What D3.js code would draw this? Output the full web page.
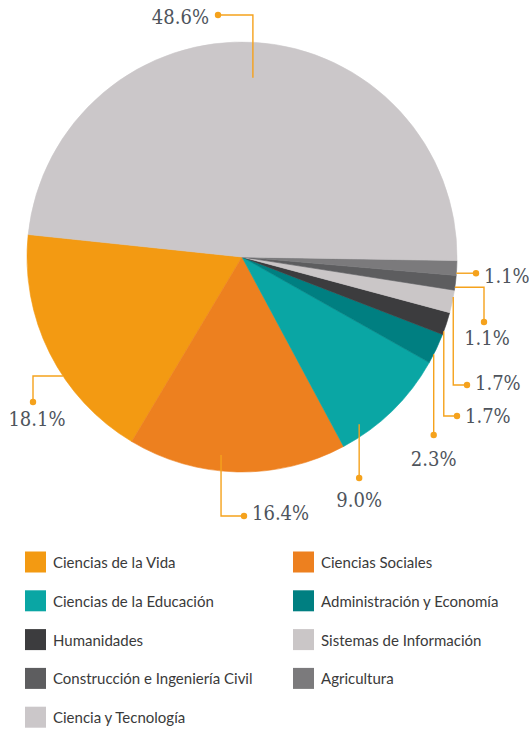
<!DOCTYPE html>
<html>
<head>
<meta charset="utf-8">
<script src="https://cdn.jsdelivr.net/npm/d3@7"></script>
<style>
  html, body { margin: 0; padding: 0; background: #ffffff; }
  svg { display: block; }
</style>
</head>
<body>
<svg id="chart" width="529" height="729"></svg>
<script>
// Areas of knowledge and their share of the total (percent)
const categories = [
  "Ciencias de la Vida",
  "Ciencias Sociales",
  "Ciencias de la Educación",
  "Administración y Economía",
  "Humanidades",
  "Sistemas de Información",
  "Construcción e Ingeniería Civil",
  "Agricultura",
  "Ciencia y Tecnología"
];
const shares = [18.1, 16.4, 9.0, 2.3, 1.7, 1.7, 1.1, 1.1, 48.6];
const shareLabels = ["18.1%", "16.4%", "9.0%", "2.3%", "1.7%", "1.7%", "1.1%", "1.1%", "48.6%"];
const colors = [
  "#f39a12", "#ed801f", "#0aa6a4", "#007f81", "#3c3c3e",
  "#cac6c7", "#5d5d5f", "#7b7a7c", "#cbc7c9"
];

// Leader layout per slice: t = position along the slice, rr = fraction of the radius
// route: "h" horizontal then vertical, "v" vertical then horizontal,
// "vo" vertical only, "ho" horizontal only
const leaders = [
  { t: 0.608, rr: 1.0,  route: "h",  dx: 33,  dy: 402, tx: 37,  ty: 419, anchor: "middle" },
  { t: 0.42,  rr: 0.926, route: "v", dx: 244, dy: 516, tx: 252, ty: 513, anchor: "start" },
  { t: 0.21,  rr: 0.95, route: "vo", dx: null, dy: 478, tx: 0,  ty: 500, anchor: "middle" },
  { t: 0.3,   rr: 1.0,  route: "vo", dx: null, dy: 435, tx: 0,  ty: 459, anchor: "middle" },
  { t: 0.15,  rr: 1.0,  route: "v",  dx: 457, dy: 416, tx: 465, ty: 416, anchor: "start" },
  { t: 0.7,   rr: 1.0,  route: "v",  dx: 467, dy: 385, tx: 475, ty: 383, anchor: "start" },
  { t: 0.2,   rr: 1.0,  route: "h",  dx: 484, dy: 322, tx: 487, ty: 338, anchor: "middle" },
  { t: 0.15,  rr: 1.0,  route: "ho", dx: 476, dy: null, tx: 484, ty: 0,  anchor: "start" },
  { t: 0.5,   rr: 0.835, route: "v", dx: 218, dy: 15,  tx: 209, ty: 17,  anchor: "end" }
];

const svg = d3.select("#chart");
const cx = 242, cy = 257, R = 215;
const leaderColor = "#f5a21c";
const startDeg = 276;

const data = categories.map((c, i) => ({ name: c, value: shares[i], label: shareLabels[i], color: colors[i], i }));

const pie = d3.pie()
  .sort(null)
  .value(d => d.value)
  .startAngle(startDeg * Math.PI / 180)
  .endAngle(startDeg * Math.PI / 180 - 2 * Math.PI);

const arcs = pie(data);
const arc = d3.arc().innerRadius(0).outerRadius(R);

const g = svg.append("g").attr("transform", `translate(${cx},${cy})`);
g.selectAll("path.slice")
  .data(arcs)
  .join("path")
  .attr("class", "slice")
  .attr("d", arc)
  .attr("fill", d => d.data.color)
  .attr("stroke", d => d.data.color)
  .attr("stroke-width", 0.6);

// Leader lines and value labels
const lg = svg.append("g");
arcs.forEach((a, i) => {
  const L = leaders[i];
  const ang = a.startAngle + L.t * (a.endAngle - a.startAngle);
  const sx = cx + R * L.rr * Math.sin(ang);
  const sy = cy - R * L.rr * Math.cos(ang);
  let pts, dot;
  if (L.route === "h") {
    dot = [L.dx, L.dy];
    pts = [[sx, sy], [L.dx, sy], dot];
  } else if (L.route === "v") {
    dot = [L.dx, L.dy];
    pts = [[sx, sy], [sx, L.dy], dot];
  } else if (L.route === "vo") {
    dot = [sx, L.dy];
    pts = [[sx, sy], dot];
  } else {
    dot = [L.dx, sy];
    pts = [[sx, sy], dot];
  }
  lg.append("path")
    .attr("d", d3.line()(pts))
    .attr("fill", "none")
    .attr("stroke", leaderColor)
    .attr("stroke-width", 1.4);
  lg.append("circle")
    .attr("cx", dot[0]).attr("cy", dot[1]).attr("r", 3.2)
    .attr("fill", leaderColor);

  const tx = L.route === "vo" ? sx : L.tx;
  const ty = L.route === "ho" ? sy + 3 : L.ty;
  lg.append("text")
    .attr("x", tx).attr("y", ty)
    .attr("text-anchor", L.anchor)
    .attr("dominant-baseline", "central")
    .attr("font-family", "'DejaVu Serif Condensed', 'DejaVu Serif', serif")
    .attr("font-stretch", "condensed")
    .attr("font-size", 20)
    .attr("fill", "#4e545c")
    .text(a.data.label);
});

// Legend in two columns
const legX = [25, 293];
const legY0 = 562, legStep = 38.8, sw = 21;
const leg = svg.append("g");
data.forEach((d, i) => {
  const col = i % 2, row = Math.floor(i / 2);
  const x = legX[col];
  const y = legY0 + row * legStep;
  leg.append("rect")
    .attr("x", x).attr("y", y - sw / 2)
    .attr("width", sw).attr("height", sw)
    .attr("fill", d.color);
  leg.append("text")
    .attr("x", x + 28).attr("y", y)
    .attr("dominant-baseline", "central")
    .attr("font-family", "Lato, 'Open Sans', sans-serif")
    .attr("font-size", 15)
    .attr("fill", "#3a3a3a")
    .text(d.name);
});
</script>
</body>
</html>
